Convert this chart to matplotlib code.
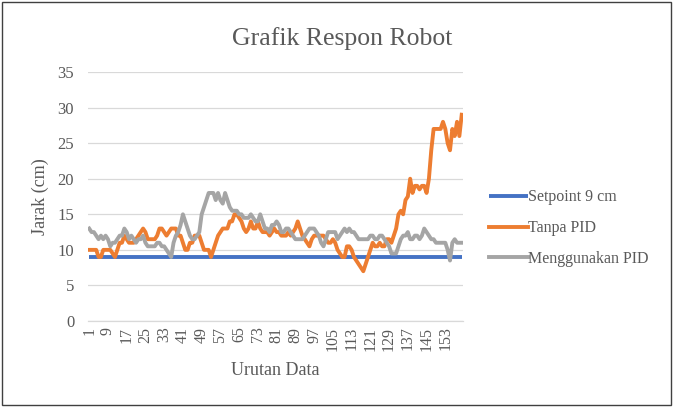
import matplotlib
matplotlib.use("Agg")
import matplotlib.pyplot as plt
from matplotlib.patches import Rectangle

plt.rcParams['font.family'] = ['Liberation Serif', 'DejaVu Serif']

setpoint_value = 9
tanpa_pid = [
    10, 10, 10, 10, 9, 9, 10, 10, 10, 10,
    9.5, 9, 10, 11, 11, 12, 11.5, 11, 11, 11,
    11.5, 12, 12.5, 13, 12.5, 11.5, 11.5, 11.5, 11.5, 12,
    13, 13, 12.5, 12, 12.5, 13, 13, 13, 12, 12,
    11, 10, 10, 11, 11, 12, 12, 12, 11, 10,
    10, 10, 9, 10, 11, 12, 12.5, 13, 13, 13,
    14, 14, 15, 15, 14.5, 14, 13, 12.5, 13, 14,
    13, 13, 14, 13, 12.5, 12.5, 12.5, 12, 12.5, 13,
    12.5, 12.5, 12, 12, 12, 12.5, 12, 12.5, 13, 14,
    13, 12, 11.5, 11, 10.5, 11.5, 12, 12, 12, 12,
    12, 11.5, 11, 11, 11.5, 11, 10, 9.5, 9, 9,
    10.5, 10.5, 10, 9, 8.5, 8, 7.5, 7, 8, 9,
    10, 11, 10.5, 10.5, 11, 10.5, 10.5, 11.5, 11.5, 11,
    12, 13, 15, 15.5, 15, 17, 17.5, 20, 18, 19,
    19, 18.5, 19, 19, 18, 20, 24, 27, 27, 27,
    27, 28, 27, 25, 24, 27, 26, 28, 26, 29,
]
menggunakan_pid = [
    13, 12.5, 12.5, 12, 11.5, 12, 11.5, 12, 11.5, 10.5,
    11, 11, 11.5, 12, 12, 13, 12.5, 11.5, 12, 11.5,
    11, 11.5, 11.5, 12, 11, 10.5, 10.5, 10.5, 10.5, 11,
    11, 10.5, 10.5, 10, 9.5, 9, 11, 12, 12.5, 13.5,
    15, 14, 13, 12, 11.5, 11.5, 12, 12.5, 15, 16,
    17, 18, 18, 18, 17, 18, 17, 16.5, 18, 17,
    16, 15.5, 15.5, 15.5, 15, 15, 14.5, 14.5, 14.5, 15,
    14.5, 14, 14, 15, 14, 13, 13, 12.5, 13.5, 13.5,
    14, 13.5, 12.5, 12.5, 13, 13, 12.5, 12, 11.5, 11.5,
    11.5, 11.5, 12, 12.5, 13, 13, 13, 12.5, 12, 11,
    10.5, 11.5, 12.5, 12.5, 12.5, 12.5, 11.5, 12, 12.5, 13,
    12.5, 13, 12.5, 12.5, 12, 11.5, 11.5, 11.5, 11.5, 11.5,
    12, 12, 11.5, 11.5, 12, 12, 11.5, 11, 10.5, 9.5,
    9.5, 9.5, 10.5, 11.5, 12, 12, 12.5, 11.5, 11.5, 12,
    12, 11.5, 12, 13, 12.5, 12, 11.5, 11.5, 11, 11,
    11, 11, 11, 10, 8.5, 11, 11.5, 11, 11, 11,
]
series_names = ["Setpoint 9 cm", "Tanpa PID", "Menggunakan PID"]
title = "Grafik Respon Robot"
x_label = "Urutan Data"
y_label = "Jarak (cm)"

n = len(tanpa_pid)
x = list(range(1, n + 1))
setpoint = [setpoint_value] * n

fig = plt.figure(figsize=(6.73, 4.07), dpi=100)
fig.patches.append(Rectangle((0.003, 0.005), 0.994, 0.99, transform=fig.transFigure,
                             fill=False, edgecolor='#404040', linewidth=1.0))
ax = fig.add_axes([0.1308, 0.2113, 0.557, 0.6117])

colors = ['#4472C4', '#ED7D31', '#A5A5A5']
lw = 2.8
ax.plot(x, setpoint, color=colors[0], lw=lw, label=series_names[0], solid_capstyle='butt')
ax.plot(x, tanpa_pid, color=colors[1], lw=lw, label=series_names[1], solid_joinstyle='round')
ax.plot(x, menggunakan_pid, color=colors[2], lw=lw, label=series_names[2], solid_joinstyle='round')

ax.set_xlim(0.5, n + 0.5)
ax.set_ylim(0, 35)
ax.set_yticks(range(0, 36, 5))
ax.set_xticks(list(range(1, n + 1, 8)))
ax.set_xticklabels([str(v) for v in range(1, n + 1, 8)], rotation=90, fontsize=11.5, color='#595959')
ax.tick_params(axis='y', length=0, labelsize=12, labelcolor='#595959', pad=10)
ax.tick_params(axis='x', length=0, pad=4)
ax.grid(axis='y', color='#D9D9D9', linewidth=0.9)
ax.set_axisbelow(True)
for s in ['top', 'right', 'left']:
    ax.spines[s].set_visible(False)
ax.spines['bottom'].set_color('#D9D9D9')
ax.spines['bottom'].set_linewidth(0.9)

ax.set_xlabel(x_label, fontsize=13, color='#595959', labelpad=8)
ax.set_ylabel(y_label, fontsize=13, color='#595959', labelpad=6)
fig.text(0.508, 0.905, title, ha='center', va='center', fontsize=18.5, color='#595959')

leg = ax.legend(loc='center left', bbox_to_anchor=(1.03, 0.373), frameon=False,
                fontsize=11.5, handlelength=2.5, handletextpad=0.0, labelspacing=0.92)
for t in leg.get_texts():
    t.set_color('#595959')

fig.savefig('out.png', dpi=100)
